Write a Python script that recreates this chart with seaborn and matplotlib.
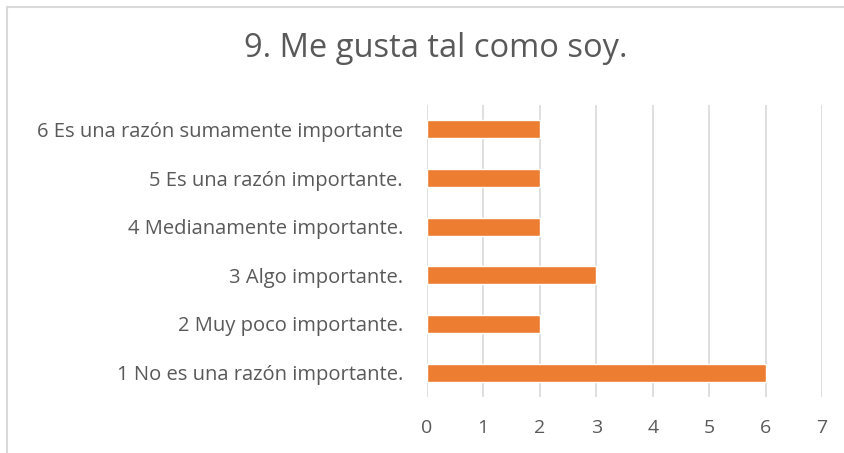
import matplotlib.pyplot as plt
import pandas as pd
import seaborn as sns
from matplotlib.patches import Rectangle

categories = [
    "6 Es una razón sumamente importante",
    "5 Es una razón importante.",
    "4 Medianamente importante.",
    "3 Algo importante.",
    "2 Muy poco importante.",
    "1 No es una razón importante.",
]
values = [2, 2, 2, 3, 2, 6]
xticks = [0, 1, 2, 3, 4, 5, 6, 7]

df = pd.DataFrame({"categoria": categories, "valor": values})

sns.set_style("white")
plt.rcParams["font.family"] = ["Open Sans", "DejaVu Sans"]

fig = plt.figure(figsize=(8.45, 4.53), dpi=100)
ax = fig.add_axes([0.505, 0.124, 0.468, 0.644])

sns.barplot(data=df, x="valor", y="categoria", color="#ED7D31",
            saturation=1, width=0.37, ax=ax, orient="h")

ax.set_xlim(0, 7)
ax.set_xticks(xticks)
ax.set_xlabel("")
ax.set_ylabel("")
ax.grid(axis="x", color="#D9D9D9", linewidth=1.2)
ax.set_axisbelow(True)
for s in ax.spines.values():
    s.set_visible(False)
ax.tick_params(axis="both", length=0, colors="#595959")
ax.tick_params(axis="y", labelsize=14.5, pad=17)
ax.tick_params(axis="x", labelsize=14, pad=16)

fig.text(0.516, 0.893, "9. Me gusta tal como soy.", ha="center", va="center",
         fontsize=23.5, color="#595959")

# chart border (only top and left edges visible in the crop)
fig.patches.append(Rectangle((7 / 845, -0.1), 1.2, 1 - 7 / 453 + 0.1,
                             transform=fig.transFigure, fill=False,
                             edgecolor="#D9D9D9", linewidth=1.5))

fig.savefig("out.png", dpi=100)
